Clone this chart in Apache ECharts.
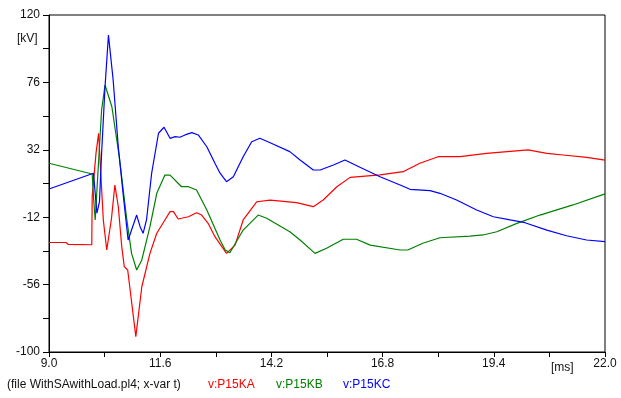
<!DOCTYPE html>
<html>
<head>
<meta charset="utf-8">
<script src="https://cdn.jsdelivr.net/npm/echarts@6/dist/echarts.min.js"></script>
<style>
html,body{margin:0;padding:0;background:#fff;}
#chart{width:621px;height:398px;}
</style>
</head>
<body>
<div id="chart"></div>
<script>
// Axis settings (ms, kV)
var xMin = 9.0, xMax = 22.0, xStep = 1.3;
var yMin = -100, yMax = 120, yStep = 22;

var seriesNames = ['v:P15KA', 'v:P15KB', 'v:P15KC'];
var seriesColors = ['#ff0000', '#008000', '#0000ff'];
var fileLabel = '(file WithSAwithLoad.pl4; x-var t)';

// [t (ms), v (kV)]
var dataKA = [
  [9.00,-28.5],[9.40,-28.5],[9.45,-29.8],[10.00,-30.0],[10.01,1.4],[10.10,30.0],[10.16,42.8],
  [10.20,41.5],[10.27,-13.8],[10.35,-33.4],[10.46,-13.0],[10.54,8.9],[10.62,-5.0],
  [10.70,-31.0],[10.76,-44.3],[10.84,-46.5],[11.03,-90.0],[11.17,-57.4],[11.36,-35.6],[11.52,-22.5],
  [11.71,-13.8],[11.83,-8.4],[11.91,-8.4],[12.02,-13.2],[12.26,-11.7],[12.45,-9.1],
  [12.57,-10.6],[12.72,-16.0],[12.88,-24.7],[13.15,-35.6],[13.35,-30.2],[13.54,-13.8],
  [13.86,-1.9],[14.17,-0.8],[14.79,-2.5],[15.18,-5.1],[15.41,-0.8],[15.73,7.9],[16.04,14.0],
  [16.74,15.6],[17.28,17.7],[17.67,23.2],[18.10,27.5],[18.61,27.5],[19.23,29.7],[20.20,31.9],
  [20.64,29.7],[21.02,28.6],[21.57,27.1],[22.00,25.3]
];
var dataKB = [
  [9.00,23.2],[10.01,16.2],[10.04,1.4],[10.08,-13.8],[10.23,58.0],[10.31,74.3],[10.35,73.2],
  [10.47,60.1],[10.64,28.0],[10.82,-13.8],[10.93,-35.6],[11.05,-46.5],[11.17,-39.9],
  [11.36,-18.2],[11.52,3.6],[11.71,15.5],[11.83,15.5],[12.10,7.9],[12.26,7.9],[12.45,5.8],
  [12.69,-7.3],[13.00,-26.9],[13.12,-33.4],[13.23,-35.2],[13.54,-20.4],[13.89,-10.6],
  [14.09,-12.7],[14.63,-21.5],[14.87,-26.9],[15.22,-35.6],[15.49,-32.3],[15.88,-26.4],
  [16.19,-26.4],[16.51,-30.2],[17.21,-33.4],[17.39,-33.4],[17.74,-29.0],[18.14,-25.4],
  [18.84,-24.3],[19.15,-23.6],[19.47,-21.5],[19.94,-16.0],[20.48,-10.6],[21.25,-4.0],[22.00,3.2]
];
var dataKC = [
  [9.00,6.4],[10.04,16.7],[10.12,-9.4],[10.18,-2.0],[10.23,29.7],[10.31,73.2],[10.39,106.9],
  [10.43,105.8],[10.50,77.6],[10.62,34.0],[10.74,1.4],[10.85,-26.9],[10.93,-20.4],[11.05,-10.6],
  [11.13,-18.2],[11.20,-22.5],[11.28,-13.8],[11.40,16.7],[11.56,42.8],[11.69,46.7],[11.83,39.5],
  [11.95,40.6],[12.06,40.2],[12.18,41.7],[12.34,43.2],[12.49,41.7],[12.69,34.0],[12.88,23.2],
  [13.00,16.7],[13.15,11.2],[13.31,14.4],[13.54,27.5],[13.74,37.3],[13.93,39.5],[14.17,36.6],
  [14.63,30.8],[14.87,25.3],[15.18,18.8],[15.34,18.8],[15.65,22.1],[15.92,25.3],[16.27,20.6],
  [16.74,14.4],[17.21,9.0],[17.44,6.2],[17.91,5.3],[18.14,3.6],[18.53,-0.8],[19.00,-7.3],
  [19.39,-11.7],[19.78,-13.8],[20.13,-15.6],[20.64,-20.4],[21.10,-24.1],[21.57,-26.9],[22.00,-28.0]
];

var allData = [dataKA, dataKB, dataKC];

// axes are offset so that ticks start at 0 (multiple of interval)
function shift(arr){ return arr.map(function(p){ return [p[0]-xMin, p[1]-yMin]; }); }

var font = 'Liberation Sans, Arial, sans-serif';
var chart = echarts.init(document.getElementById('chart'), null, {renderer:'canvas'});
chart.setOption({
  animation:false,
  backgroundColor:'#fff',
  grid:{left:49,right:16,top:15,bottom:46,show:true,borderColor:'#000',borderWidth:1,backgroundColor:'transparent'},
  xAxis:{
    type:'value', min:0, max:xMax-xMin, interval:xStep,
    axisLine:{show:true,onZero:false,lineStyle:{color:'#000',width:1}},
    axisTick:{show:true,length:5,lineStyle:{color:'#000'}},
    splitLine:{show:false},
    axisLabel:{margin:6,color:'#111',fontSize:12,fontFamily:font,
      formatter:function(v,i){ var k=Math.round(v/xStep); return k%2? '' : (v+xMin).toFixed(1); }}
  },
  yAxis:{
    type:'value', min:0, max:yMax-yMin, interval:yStep,
    axisLine:{show:true,onZero:false,lineStyle:{color:'#000',width:1}},
    axisTick:{show:true,length:6,lineStyle:{color:'#000'}},
    splitLine:{show:false},
    axisLabel:{margin:9,color:'#111',fontSize:12,fontFamily:font,
      formatter:function(v){ var k=Math.round(v/yStep); return k%2? '' : String(Math.round(v+yMin)); }}
  },
  series: allData.map(function(d,i){
    return {type:'line',name:seriesNames[i],data:shift(d),showSymbol:false,
      lineStyle:{color:seriesColors[i],width:1.2},itemStyle:{color:seriesColors[i]},clip:true};
  }),
  graphic:[
    {type:'text',left:17,top:33,style:{text:'[kV]',fill:'#111',font:'12px '+font}},
    {type:'text',left:551,top:362,style:{text:'[ms]',fill:'#111',font:'12px '+font}},
    {type:'text',left:7,top:379,style:{text:fileLabel,fill:'#111',font:'12px '+font}},
    {type:'text',left:208,top:379,style:{text:seriesNames[0],fill:seriesColors[0],font:'12px '+font}},
    {type:'text',left:276,top:379,style:{text:seriesNames[1],fill:seriesColors[1],font:'12px '+font}},
    {type:'text',left:343,top:379,style:{text:seriesNames[2],fill:seriesColors[2],font:'12px '+font}}
  ]
});
</script>
</body>
</html>
